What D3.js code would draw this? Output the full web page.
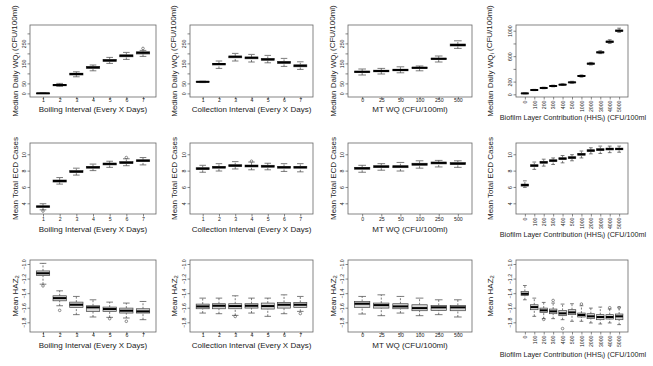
<!DOCTYPE html>
<html><head><meta charset="utf-8">
<script src="https://cdn.jsdelivr.net/npm/d3@7"></script>
<style>body{margin:0;background:#fff}svg{display:block}text{font-family:"Liberation Sans",Arial,sans-serif;fill:#222}</style>
</head><body><svg id="c" width="653" height="366"></svg>
<script>
// ---- categories ----
const boilCats = ["1","2","3","4","5","6","7"];
const collCats = ["1","2","3","4","5","6","7"];
const mtCats = ["0","25","50","100","250","500"];
const bioCats = ["0","100","200","300","400","500","1000","2000","3000","4000","5000"];

// ---- box statistics [lowWhisker, q1, median, q3, highWhisker] ----
// Row 1: Median Daily WQ_i (CFU/100ml)
const boilWQ = [[0,0,0.5,1,2],[35,38,42,45,50],[83,92,97,101,108],[113,125,130,135,142],[150,160,165,170,180],[170,183,188,193,205],[185,197,203,208,215]];
const boilWQOut = [[],[],[],[],[],[],[225]];
const collWQ = [[54,56,58,59,61],[125,142,147,150,162],[162,178,183,187,200],[157,173,178,182,195],[153,166,170,175,190],[135,150,155,160,175],[120,133,138,143,158]];
const collWQOut = [[],[],[],[],[],[],[]];
const mtWQ = [[92,104,108,111,122],[97,108,112,116,125],[103,113,117,121,133],[113,125,128,131,137],[157,170,173,176,187],[225,237,242,247,263]];
const mtWQOut = [[],[],[],[],[],[]];
const bioWQ = [[8,12,15,18,22],[58,64,68,72,78],[88,96,100,104,112],[118,127,131,135,144],[140,148,152,157,165],[175,183,188,193,205],[270,282,288,294,305],[462,475,482,490,502],[640,652,660,668,685],[800,817,827,837,858],[975,992,1000,1010,1040]];
const bioWQOut = [[],[],[],[],[],[],[],[],[],[],[]];

// Row 2: Mean Total ECD Cases
const boilECD = [[3.2,3.52,3.6,3.68,3.95],[6.35,6.6,6.73,6.85,7.15],[7.45,7.78,7.88,8.0,8.3],[8.0,8.3,8.41,8.5,8.8],[8.4,8.7,8.82,8.92,9.15],[8.6,8.88,8.98,9.1,9.45],[8.7,9.1,9.22,9.32,9.6]];
const boilECDOut = [[3.05],[],[],[],[],[9.6],[]];
const collECD = [[7.8,8.12,8.24,8.36,8.65],[7.95,8.3,8.41,8.52,8.85],[8.2,8.5,8.61,8.72,9.1],[8.1,8.45,8.57,8.68,9.05],[8.1,8.42,8.53,8.65,8.9],[7.9,8.3,8.41,8.52,8.85],[7.85,8.3,8.41,8.52,8.85]];
const collECDOut = [[],[],[],[9.15],[],[],[]];
const mtECD = [[7.8,8.17,8.29,8.4,8.65],[8.05,8.37,8.49,8.6,8.85],[7.95,8.36,8.49,8.6,9.0],[8.3,8.65,8.78,8.9,9.2],[8.45,8.82,8.94,9.05,9.25],[8.4,8.75,8.86,8.98,9.2]];
const mtECDOut = [[],[],[],[],[],[]];
const bioECD = [[5.95,6.1,6.24,6.35,6.75],[8.15,8.5,8.61,8.72,9.05],[8.55,8.9,9.02,9.12,9.4],[8.75,9.1,9.22,9.32,9.55],[8.95,9.35,9.47,9.57,9.85],[9.2,9.48,9.59,9.7,9.95],[9.55,9.88,10.0,10.1,10.4],[10.05,10.33,10.45,10.55,10.8],[10.1,10.45,10.57,10.68,11.0],[10.2,10.53,10.65,10.75,11.0],[10.25,10.55,10.65,10.75,11.0]];
const bioECDOut = [[],[],[],[],[],[],[],[],[],[],[]];

// Row 3: Mean HAZ_2
const boilHAZ = [[-1.277,-1.159,-1.127,-1.095,-0.991],[-1.573,-1.505,-1.468,-1.436,-1.368],[-1.695,-1.595,-1.559,-1.523,-1.445],[-1.727,-1.65,-1.595,-1.573,-1.491],[-1.732,-1.65,-1.618,-1.591,-1.523],[-1.741,-1.673,-1.641,-1.605,-1.536],[-1.764,-1.673,-1.65,-1.614,-1.514]];
const boilHAZOut = [[-1.30],[-1.636],[],[],[-1.75],[-1.786],[]];
const collHAZ = [[-1.673,-1.614,-1.582,-1.55,-1.468],[-1.682,-1.614,-1.573,-1.545,-1.468],[-1.705,-1.614,-1.577,-1.545,-1.436],[-1.673,-1.605,-1.573,-1.545,-1.468],[-1.718,-1.618,-1.577,-1.536,-1.468],[-1.682,-1.605,-1.559,-1.527,-1.423],[-1.65,-1.595,-1.559,-1.527,-1.445]];
const collHAZOut = [[],[],[-1.72],[],[],[],[-1.68]];
const mtHAZ = [[-1.686,-1.595,-1.545,-1.514,-1.445],[-1.709,-1.605,-1.564,-1.536,-1.423],[-1.673,-1.614,-1.582,-1.545,-1.445],[-1.709,-1.641,-1.605,-1.559,-1.468],[-1.695,-1.636,-1.595,-1.568,-1.491],[-1.727,-1.641,-1.595,-1.568,-1.491]];
const mtHAZOut = [[],[],[],[],[],[]];
const bioHAZ = [[-1.491,-1.432,-1.409,-1.377,-1.295],[-1.718,-1.627,-1.591,-1.559,-1.468],[-1.75,-1.664,-1.636,-1.605,-1.527],[-1.75,-1.682,-1.65,-1.618,-1.536],[-1.764,-1.709,-1.677,-1.636,-1.55],[-1.786,-1.695,-1.664,-1.627,-1.545],[-1.786,-1.727,-1.7,-1.673,-1.573],[-1.809,-1.75,-1.718,-1.682,-1.605],[-1.823,-1.764,-1.727,-1.695,-1.591],[-1.809,-1.755,-1.727,-1.695,-1.618],[-1.832,-1.764,-1.718,-1.686,-1.591]];
const bioHAZOut = [[],[],[-1.76],[-1.5],[-1.886],[],[-1.55],[],[],[-1.6],[-1.6]];

// ---- axis ticks / labels ----
const wqTicks = [0,50,100,150,200,250,300];
const wqLabels = [0,50,150,250];
const bioWqTicks = [0,200,400,600,800,1000];
const bioWqLabels = [0,200,600,1000];
const ecdTicks = [4,6,8,10];
const hazTicks = [-1.8,-1.6,-1.4,-1.2,-1.0];

// ---- titles (as shown in the reference; the last one is cut at the page edge there) ----
const xTitles = ["Boiling Interval (Every X Days)","Collection Interval (Every X Days)","MT WQ (CFU/100ml)","Biofilm Layer Contribution (HHS|i|) (CFU/100ml"];
const yTitles = ["Median Daily WQ|i| (CFU/100ml)","Mean Total ECD Cases","Mean HAZ|2|"];

// ---- layout ----
const colX = [[30,156],[190,313],[348,472],[516,628]];
const rowY = [[25,97],[143,214],[260,332]];
const yTitleX = [15,174,333,490];
const xLabY = [100,219.5,335.5];
const xTitleY = [[109,109,109,117.5],[229,229,229,234.5],[345,345,345,354.5]];
const yDomains = [[-18,342],[2.69,11.38],[-1.933,-0.945]];
const bioWqDomain = [-42,1090];

const cats = [boilCats,collCats,mtCats,bioCats];
const stats = [[boilWQ,collWQ,mtWQ,bioWQ],[boilECD,collECD,mtECD,bioECD],[boilHAZ,collHAZ,mtHAZ,bioHAZ]];
const outs = [[boilWQOut,collWQOut,mtWQOut,bioWQOut],[boilECDOut,collECDOut,mtECDOut,bioECDOut],[boilHAZOut,collHAZOut,mtHAZOut,bioHAZOut]];

const svg = d3.select("#c");

const TICKF = 5.2, TITF = 8, TITF4 = 7.2;

function richText(sel, str){
  const parts = str.split("|");
  parts.forEach((p,i)=>{
    if(!p) return;
    const t = sel.append("tspan").text(p);
    if(i%2===1){ t.attr("font-size","0.72em").attr("dy","0.25em"); }
    else if(i>0){ t.attr("dy","-0.25em"); }
  });
}

for(let r=0;r<3;r++){
  for(let c=0;c<4;c++){
    const [x0,x1] = colX[c], [y0,y1] = rowY[r];
    const n = cats[c].length;
    const x = d3.scaleLinear().domain([0.5-0.04*n, n+0.5+0.04*n]).range([x0,x1]);
    const yd = (r===0 && c===3) ? bioWqDomain : yDomains[r];
    const y = d3.scaleLinear().domain(yd).range([y1,y0]);
    const g = svg.append("g");
    const bw = (x(1)-x(0))*0.8;
    const data = stats[r][c], od = outs[r][c];

    data.forEach((s,i)=>{
      const cx = x(i+1);
      const bg = g.append("g");
      bg.append("line").attr("x1",cx).attr("x2",cx).attr("y1",y(s[0])).attr("y2",y(s[1])).attr("stroke","#444").attr("stroke-width",0.7).attr("stroke-dasharray","2,1.5");
      bg.append("line").attr("x1",cx).attr("x2",cx).attr("y1",y(s[3])).attr("y2",y(s[4])).attr("stroke","#444").attr("stroke-width",0.7).attr("stroke-dasharray","2,1.5");
      [s[0],s[4]].forEach(v=>bg.append("line").attr("x1",cx-bw/4).attr("x2",cx+bw/4).attr("y1",y(v)).attr("y2",y(v)).attr("stroke","#444").attr("stroke-width",0.7));
      bg.append("rect").attr("x",cx-bw/2).attr("y",y(s[3])).attr("width",bw).attr("height",Math.max(0.5,y(s[1])-y(s[3]))).attr("fill","#d3d3d3").attr("stroke","#444").attr("stroke-width",0.7);
      bg.append("line").attr("x1",cx-bw/2).attr("x2",cx+bw/2).attr("y1",y(s[2])).attr("y2",y(s[2])).attr("stroke","#000").attr("stroke-width",2);
      (od[i]||[]).forEach(v=>bg.append("circle").attr("cx",cx).attr("cy",y(v)).attr("r",1.3).attr("fill","none").attr("stroke","#444").attr("stroke-width",0.6));
    });

    g.append("rect").attr("x",x0).attr("y",y0).attr("width",x1-x0).attr("height",y1-y0).attr("fill","none").attr("stroke","#666").attr("stroke-width",0.8);

    let ticks, labels;
    if(r===0){ ticks = c===3?bioWqTicks:wqTicks; labels = c===3?bioWqLabels:wqLabels; }
    else if(r===1){ ticks = ecdTicks; labels = ecdTicks; }
    else { ticks = hazTicks; labels = hazTicks; }
    const ya = g.append("g").attr("transform",`translate(${x0},0)`)
      .call(d3.axisLeft(y).tickValues(ticks).tickSize(2.5).tickFormat(v=>labels.some(l=>Math.abs(l-v)<1e-9)?(r===2?d3.format(".1f")(v):String(v)):""));
    ya.select(".domain").remove();
    ya.selectAll("line").attr("stroke","#555").attr("stroke-width",0.7);
    ya.selectAll("text").attr("x",0).attr("y",-6).attr("dy","0.35em").attr("text-anchor","middle")
      .attr("transform","rotate(-90)").attr("font-size",TICKF).attr("fill","#222");

    const xa = g.append("g").attr("transform",`translate(0,${y1})`)
      .call(d3.axisBottom(x).tickValues(d3.range(1,n+1)).tickSize(2.5).tickFormat(i=>cats[c][i-1]));
    xa.select(".domain").remove();
    xa.selectAll("line").attr("stroke","#555").attr("stroke-width",0.7);
    if(c===3){
      xa.selectAll("text").attr("x",-3.5).attr("y",0).attr("dy","0.35em").attr("text-anchor","end")
        .attr("transform","rotate(-90)").attr("font-size",TICKF).attr("fill","#222");
    } else {
      xa.selectAll("text").attr("y",xLabY[r]-y1).attr("dy","0.35em").attr("font-size",TICKF).attr("fill","#222");
    }

    const xt = svg.append("text").attr("y",xTitleY[r][c]).attr("dy","0.35em");
    if(c===3){
      xt.attr("x",646).attr("text-anchor","end").attr("font-size",TITF4);
    } else {
      xt.attr("x",(x0+x1)/2).attr("text-anchor","middle").attr("font-size",TITF);
    }
    richText(xt, xTitles[c]);
    const yt = svg.append("text").attr("transform",`translate(${yTitleX[c]},${(y0+y1)/2}) rotate(-90)`).attr("dy","0.35em")
      .attr("text-anchor","middle").attr("font-size",TITF);
    richText(yt, yTitles[r]);
  }
}
</script>
</body></html>
